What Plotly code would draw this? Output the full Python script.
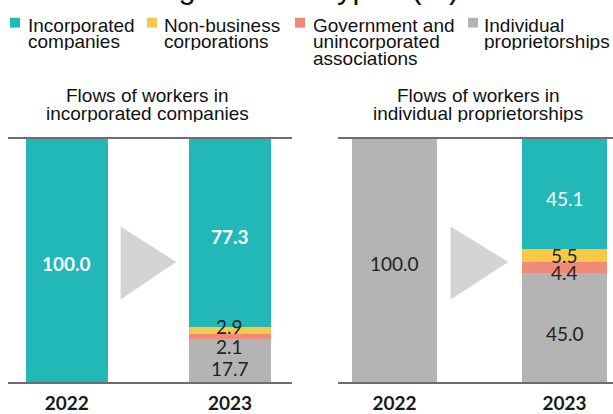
import plotly.graph_objects as go

# ---------------- data ----------------
years = ["2022", "2023"]
categories = ["Incorporated companies", "Non-business corporations",
              "Government and unincorporated associations", "Individual proprietorships"]
legend_lines = [["Incorporated", "companies"], ["Non-business", "corporations"],
                ["Government and", "unincorporated", "associations"],
                ["Individual", "proprietorships"]]
colors = ["#22b8b8", "#f9c846", "#f08a78", "#b4b4b4"]

# Flows of workers in incorporated companies (left panel)
inc_incorporated = [100.0, 77.3]
inc_nonbusiness = [None, 2.9]
inc_government = [None, 2.1]
inc_individual = [None, 17.7]

# Flows of workers in individual proprietorships (right panel)
ind_incorporated = [None, 45.1]
ind_nonbusiness = [None, 5.5]
ind_government = [None, 4.4]
ind_individual = [100.0, 45.0]

panel_titles = [["Flows of workers in", "incorporated companies"],
                ["Flows of workers in", "individual proprietorships"]]
title_text = "organization types (%)"

W, H = 613, 414
def px(x): return x / W
def py(y): return 1 - y / H

fig = go.Figure()

NUMFONT = "Lato, Open Sans, sans-serif"
TXTFONT = "Liberation Sans, Arial, sans-serif"

panels = [
    ("x", "y", [inc_individual, inc_government, inc_nonbusiness, inc_incorporated]),
    ("x2", "y2", [ind_individual, ind_government, ind_nonbusiness, ind_incorporated]),
]
stack_colors = [colors[3], colors[2], colors[1], colors[0]]
stack_names = [categories[3], categories[2], categories[1], categories[0]]

for xa, ya, series in panels:
    for vals, col, name in zip(series, stack_colors, stack_names):
        fig.add_trace(go.Bar(x=years, y=vals, xaxis=xa, yaxis=ya, name=name,
                             marker=dict(color=col, line=dict(width=0)),
                             width=0.5, showlegend=False, hoverinfo="skip"))

fig.update_layout(barmode="stack")

# ----- labels (positions derived from data) -----
def seg_mid(series, idx, k):
    base = sum((s[idx] or 0) for s in series[:k])
    return base + (series[k][idx] or 0) / 2

# label style per (panel, year idx, stack idx): (color, bold, yshift)
label_specs = {
    ("x", 0, 3): ("white", True, -3),
    ("x", 1, 3): ("white", True, -3),
    ("x", 1, 2): ("#222222", False, 4),
    ("x", 1, 1): ("#222222", False, -10),
    ("x", 1, 0): ("#222222", False, -8),
    ("x2", 0, 0): ("#222222", False, -3),
    ("x2", 1, 3): ("white", False, -5),
    ("x2", 1, 2): ("#222222", False, 0),
    ("x2", 1, 1): ("#3a1a1a", False, -5),
    ("x2", 1, 0): ("#222222", False, -6),
}
for (xa, idx, k), (col, bold, ys) in label_specs.items():
    series = panels[0][2] if xa == "x" else panels[1][2]
    v = series[k][idx]
    yv = seg_mid(series, idx, k)
    fig.add_annotation(x=idx, y=yv, xref=xa, yref="y" if xa == "x" else "y2",
                       text=(f"<b>{v:.1f}</b>" if bold else f"{v:.1f}"),
                       showarrow=False, yshift=ys,
                       font=dict(family=NUMFONT, size=19, color=col))

# ----- arrows (decorative triangles) -----
for xa, ya in [("x", "y"), ("x2", "y2")]:
    fig.add_shape(type="path", xref=xa, yref=ya,
                  path="M 0.33,34 L 0.67,49.5 L 0.33,64 Z",
                  fillcolor="#d4d4d4", line=dict(width=0))

# ----- axes -----
ydom = [py(388), py(141)]
axis_common = dict(type="category", showline=True, mirror=True, linecolor="#6e6e6e",
                   linewidth=1.5, ticks="", showgrid=False, zeroline=False,
                   tickfont=dict(family=NUMFONT, size=19, color="#1a1a1a", weight="bold"),
                   ticklabelstandoff=3)
fig.update_layout(
    xaxis=dict(domain=[px(8), px(292)], range=[-0.36, 1.38], anchor="y", **axis_common),
    xaxis2=dict(domain=[px(338), px(613)], range=[-0.332, 1.285], anchor="y2", **axis_common),
    yaxis=dict(domain=ydom, range=[0, 100], visible=False),
    yaxis2=dict(domain=ydom, range=[0, 100], anchor="x2", visible=False),
)

# ----- panel titles -----
for cx, lines in [(147, panel_titles[0]), (478, panel_titles[1])]:
    for i, line in enumerate(lines):
        base = 103 + i * 18
        fig.add_annotation(x=px(cx), y=py(base - 6.5), xref="paper", yref="paper",
                           text=line, showarrow=False, xanchor="center", yanchor="middle",
                           height=18, valign="middle",
                           font=dict(family=TXTFONT, size=19, color="#111111"))

# ----- custom legend -----
sq_x = [10, 147, 295, 468]
tx_x = [26, 162, 311, 482]
for col, sx, tx, lines in zip(colors, sq_x, tx_x, legend_lines):
    fig.add_shape(type="rect", xref="paper", yref="paper",
                  x0=px(sx), x1=px(sx + 10), y0=py(28), y1=py(18),
                  fillcolor=col, line=dict(width=0))
    for i, line in enumerate(lines):
        base = 32 + i * 17
        fig.add_annotation(x=px(tx), y=py(base - 6.5), xref="paper", yref="paper",
                           text=line, showarrow=False, xanchor="left", yanchor="middle",
                           height=17, valign="middle",
                           font=dict(family=TXTFONT, size=19, color="#111111"))

# ----- cropped title -----
fig.add_annotation(x=px(305), y=py(-2 - 10.5), xref="paper", yref="paper",
                   text=title_text, showarrow=False, xanchor="center", yanchor="middle",
                   font=dict(family=TXTFONT, size=31, color="#111111"))

fig.update_layout(width=W, height=H, margin=dict(l=0, r=0, t=0, b=0),
                  paper_bgcolor="white", plot_bgcolor="white", showlegend=False)

fig.write_html("out.html", config={"displayModeBar": False},
               post_script="document.body.style.margin='0';document.body.style.overflow='hidden';")
